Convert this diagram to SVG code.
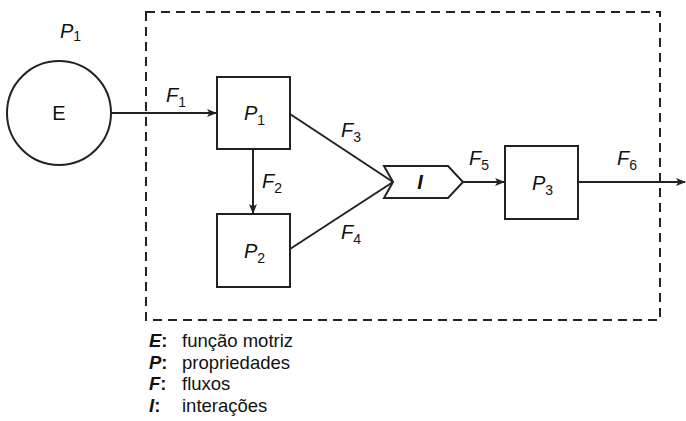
<svg xmlns="http://www.w3.org/2000/svg" width="686" height="421" viewBox="0 0 686 421">
<defs>
<marker id="ah" markerWidth="10" markerHeight="8" refX="9" refY="4" orient="auto" markerUnits="userSpaceOnUse">
<path d="M0,0 L10,4 L0,8 L2.5,4 Z" fill="#222"/>
</marker>
<style>
.ln{stroke:#222;stroke-width:2;fill:none}
.bx{stroke:#222;stroke-width:2;fill:#fff}
.t{font-family:"Liberation Sans",Arial,sans-serif;fill:#111;font-size:20px}
.i{font-style:italic}
.s{font-size:14px;font-style:normal}
.lg{font-family:"Liberation Sans",Arial,sans-serif;fill:#111;font-size:18.5px}
.b{font-weight:bold;font-style:italic}
.bc{font-weight:bold}
</style>
</defs>
<rect id="boundary" x="146" y="12" width="514" height="308" fill="none" stroke="#222" stroke-width="2" stroke-dasharray="9,6"/>
<g id="connectors">
<line class="ln" x1="111" y1="113" x2="216" y2="113" marker-end="url(#ah)"/>
<line class="ln" x1="253" y1="149" x2="253" y2="213" marker-end="url(#ah)"/>
<line class="ln" x1="290" y1="114" x2="393" y2="182"/>
<line class="ln" x1="290" y1="249" x2="393" y2="182"/>
<line class="ln" x1="463" y1="182" x2="504" y2="182" marker-end="url(#ah)"/>
<line class="ln" x1="578" y1="182" x2="685" y2="182" marker-end="url(#ah)"/>
<text class="t i" x="166" y="102">F<tspan class="s" dy="5">1</tspan></text>
<text class="t i" x="262" y="188">F<tspan class="s" dy="5">2</tspan></text>
<text class="t i" x="341" y="137">F<tspan class="s" dy="5">3</tspan></text>
<text class="t i" x="341" y="239">F<tspan class="s" dy="5">4</tspan></text>
<text class="t i" x="469" y="165">F<tspan class="s" dy="5">5</tspan></text>
<text class="t i" x="617" y="165">F<tspan class="s" dy="5">6</tspan></text>
</g>
<g id="E">
<circle class="bx" cx="59" cy="113" r="52"/>
<text class="t" x="59" y="120" text-anchor="middle">E</text>
<text class="t i" x="60" y="38">P<tspan class="s" dy="3">1</tspan></text>
</g>
<g id="P1">
<rect class="bx" x="217" y="77" width="73" height="72"/>
<text class="t i" x="244" y="120">P<tspan class="s" dy="5">1</tspan></text>
</g>
<g id="P2">
<rect class="bx" x="217" y="214" width="73" height="73"/>
<text class="t i" x="244" y="258">P<tspan class="s" dy="5">2</tspan></text>
</g>
<g id="I">
<path class="bx" d="M384,166 L448,166 L463,182 L448,198 L384,198 L393,182 Z"/>
<text class="t b" x="420" y="189" text-anchor="middle">I</text>
</g>
<g id="P3">
<rect class="bx" x="505" y="146" width="73" height="73"/>
<text class="t i" x="532" y="190">P<tspan class="s" dy="5">3</tspan></text>
</g>
<g id="legend">
<text class="lg" x="149" y="347"><tspan class="b">E</tspan><tspan class="bc">:</tspan></text>
<text class="lg" x="182" y="347">função motriz</text>
<text class="lg" x="149" y="368.5"><tspan class="b">P</tspan><tspan class="bc">:</tspan></text>
<text class="lg" x="182" y="368.5">propriedades</text>
<text class="lg" x="149" y="390"><tspan class="b">F</tspan><tspan class="bc">:</tspan></text>
<text class="lg" x="182" y="390">fluxos</text>
<text class="lg" x="149" y="411.5"><tspan class="b">I</tspan><tspan class="bc">:</tspan></text>
<text class="lg" x="182" y="411.5">interações</text>
</g>
</svg>
